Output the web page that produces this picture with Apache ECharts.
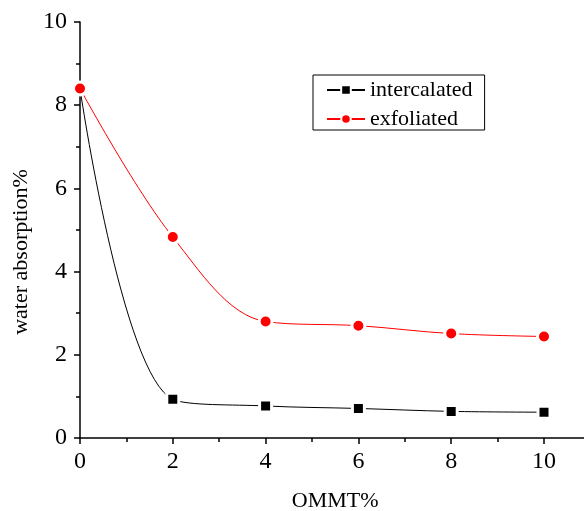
<!DOCTYPE html>
<html>
<head>
<meta charset="utf-8">
<script src="https://cdn.jsdelivr.net/npm/echarts@6/dist/echarts.min.js"></script>
<style>
  html, body { margin: 0; padding: 0; background: #fff; }
  #chart { width: 584px; height: 511px; }
</style>
</head>
<body>
<div id="chart"></div>
<script>
// OMMT content (%)
const ommt = [0, 2, 4, 6, 8, 10]
// water absorption (%)
const intercalated = [8.4, 0.93, 0.77, 0.71, 0.64, 0.62]
const exfoliated = [8.4, 4.83, 2.8, 2.7, 2.51, 2.44]

const chart = echarts.init(document.getElementById('chart'))

const font = 'Liberation Serif, Times New Roman, serif'

function pairs(xs, ys) {
  return xs.map((x, i) => [x, ys[i]])
}

const option = {
  animation: false,
  backgroundColor: '#fff',
  textStyle: { fontFamily: font },
  grid: {
    left: 80,
    top: 22,
    width: 510.4, // 0..11, axis runs off the right edge
    height: 416,
    outerBoundsMode: 'none',
    containLabel: false,
  },
  legend: {
    left: 313,
    top: 75,
    orient: 'vertical',
    itemWidth: 38,
    itemHeight: 12,
    itemGap: 7,
    padding: [4, 12, 0, 13],
    borderColor: '#000',
    borderWidth: 1,
    textStyle: { fontFamily: font, fontSize: 22, color: '#000' },
    data: ['intercalated', 'exfoliated'],
  },
  xAxis: {
    type: 'value',
    min: 0,
    max: 11,
    interval: 2,
    name: 'OMMT%',
    nameLocation: 'middle',
    nameGap: 52,
    nameTextStyle: { fontFamily: font, fontSize: 22, color: '#000' },
    axisLine: { lineStyle: { color: '#000', width: 1.5 } },
    axisTick: { show: true, length: 6, lineStyle: { color: '#000', width: 1.5 } },
    minorTick: { show: true, splitNumber: 2, length: 4, lineStyle: { color: '#000', width: 1.5 } },
    axisLabel: {
      fontFamily: font, fontSize: 24, color: '#000', margin: 12,
      formatter: v => (v > 10 ? '' : v),
    },
    splitLine: { show: false },
  },
  yAxis: {
    type: 'value',
    min: 0,
    max: 10,
    interval: 2,
    name: 'water absorption%',
    nameLocation: 'middle',
    nameGap: 48,
    nameTextStyle: { fontFamily: font, fontSize: 22, color: '#000', padding: [0, 44, 0, 0] },
    axisLine: { show: true, lineStyle: { color: '#000', width: 1.5 } },
    axisTick: { show: true, length: 6, lineStyle: { color: '#000', width: 1.5 } },
    minorTick: { show: true, splitNumber: 2, length: 4, lineStyle: { color: '#000', width: 1.5 } },
    axisLabel: { fontFamily: font, fontSize: 24, color: '#000', margin: 13 },
    splitLine: { show: false },
  },
  series: [
    {
      name: 'intercalated',
      type: 'line',
      smooth: 0.35,
      data: pairs(ommt, intercalated),
      symbol: 'rect',
      symbolSize: 12,
      lineStyle: { color: '#000', width: 1 },
      itemStyle: { color: '#000', borderColor: '#fff', borderWidth: 3 },
      z: 2,
    },
    {
      name: 'exfoliated',
      type: 'line',
      smooth: 0.35,
      data: pairs(ommt, exfoliated),
      symbol: 'circle',
      symbolSize: 13,
      lineStyle: { color: '#ff0000', width: 1 },
      itemStyle: { color: '#ff0000', borderColor: '#fff', borderWidth: 3 },
      z: 3,
    },
  ],
}

chart.setOption(option)
</script>
</body>
</html>
